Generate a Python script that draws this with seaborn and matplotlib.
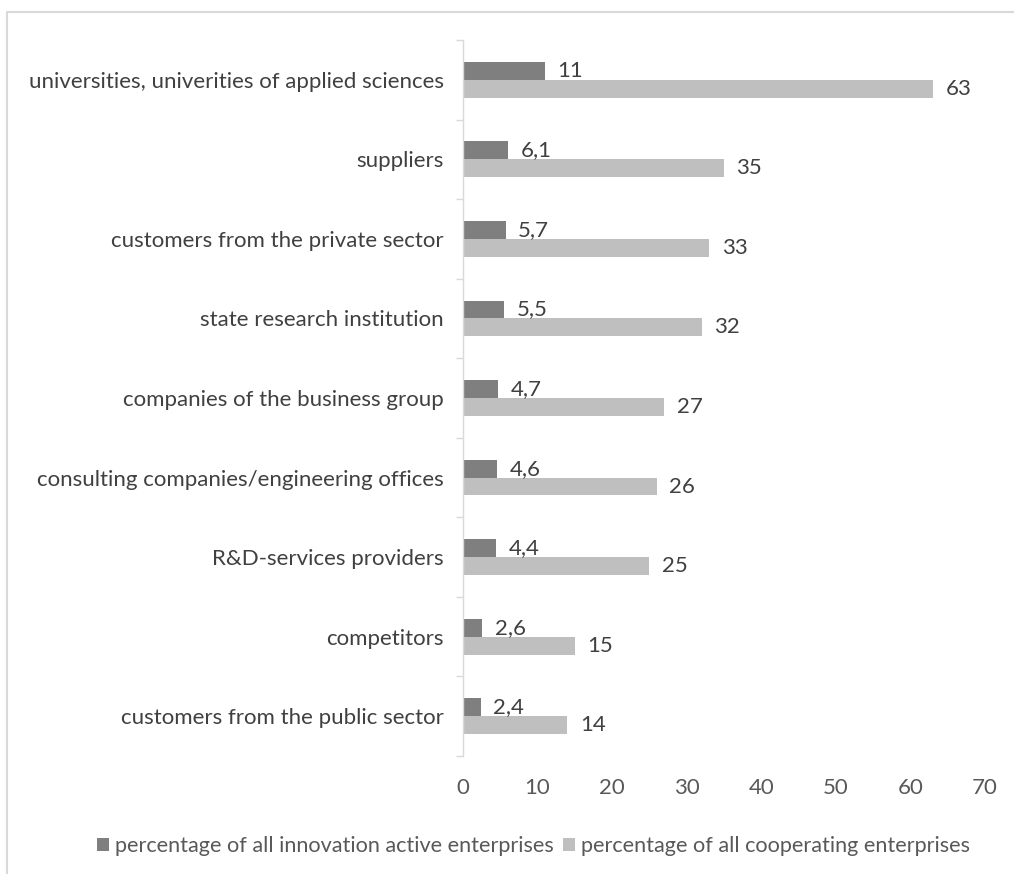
import matplotlib
matplotlib.use("Agg")
import matplotlib.pyplot as plt
import seaborn as sns
import pandas as pd
from matplotlib.lines import Line2D

categories = [
    "universities, univerities of applied sciences",
    "suppliers",
    "customers from the private sector",
    "state research institution",
    "companies of the business group",
    "consulting companies/engineering offices",
    "R&D-services providers",
    "competitors",
    "customers from the public sector",
]
innovation_active = [11, 6.1, 5.7, 5.5, 4.7, 4.6, 4.4, 2.6, 2.4]
cooperating = [63, 35, 33, 32, 27, 26, 25, 15, 14]
series_names = ["percentage of all innovation active enterprises",
                "percentage of all cooperating enterprises"]
x_ticks = [0, 10, 20, 30, 40, 50, 60, 70]

df = pd.DataFrame({
    "category": categories * 2,
    "value": innovation_active + cooperating,
    "series": [series_names[0]] * len(categories) + [series_names[1]] * len(categories),
})

sns.set_theme(style="white")
plt.rcParams["font.family"] = ["Lato", "DejaVu Sans"]

fig = plt.figure(figsize=(10.14, 8.74), dpi=100)
ax = fig.add_axes([463 / 1014, 1 - 756 / 874, (985 - 463) / 1014, (756 - 40) / 874])

palette = {series_names[0]: "#7f7f7f", series_names[1]: "#bfbfbf"}
sns.barplot(data=df, y="category", x="value", hue="series", order=categories,
            hue_order=series_names, palette=palette, orient="y", width=0.45,
            ax=ax, saturation=1, legend=True, edgecolor="none")

def fmt(v):
    s = f"{v:g}"
    return s.replace(".", ",")

for cont in ax.containers:
    vals = [b.get_width() for b in cont]
    ax.bar_label(cont, labels=[fmt(v) for v in vals], padding=9,
                 fontsize=16, color="#404040")

ax.set_xlim(0, 70)
ax.set_ylim(len(categories) - 0.5, -0.5)
ax.set_xticks(x_ticks)
ax.set_xticklabels([str(t) for t in x_ticks], fontsize=16, color="#595959")
ax.tick_params(axis="x", length=0, pad=16)
ax.tick_params(axis="y", which="major", length=0, pad=14, labelsize=16, labelcolor="#404040")
ax.set_xlabel("")
ax.set_ylabel("")
for s in ["top", "right", "bottom"]:
    ax.spines[s].set_visible(False)
ax.spines["left"].set_color("#d9d9d9")
ax.spines["left"].set_linewidth(1)

# minor tick marks at band boundaries
ax.set_yticks([i - 0.5 for i in range(len(categories) + 1)], minor=True)
ax.tick_params(axis="y", which="minor", left=True, length=5, color="#d9d9d9", width=1)

leg = ax.legend(loc="upper center", bbox_to_anchor=(0.135, -0.085), ncol=2,
                frameon=False, fontsize=15.6, handlelength=0.55, handleheight=0.55,
                handletextpad=0.3, columnspacing=0.4, labelcolor="#595959")

# outer chart frame
fig.add_artist(Line2D([7 / 1014, 7 / 1014, 1.0], [0.0, 1 - 12 / 874, 1 - 12 / 874],
                      transform=fig.transFigure, color="#d9d9d9", linewidth=1.5))

fig.savefig("out.png", dpi=100)
